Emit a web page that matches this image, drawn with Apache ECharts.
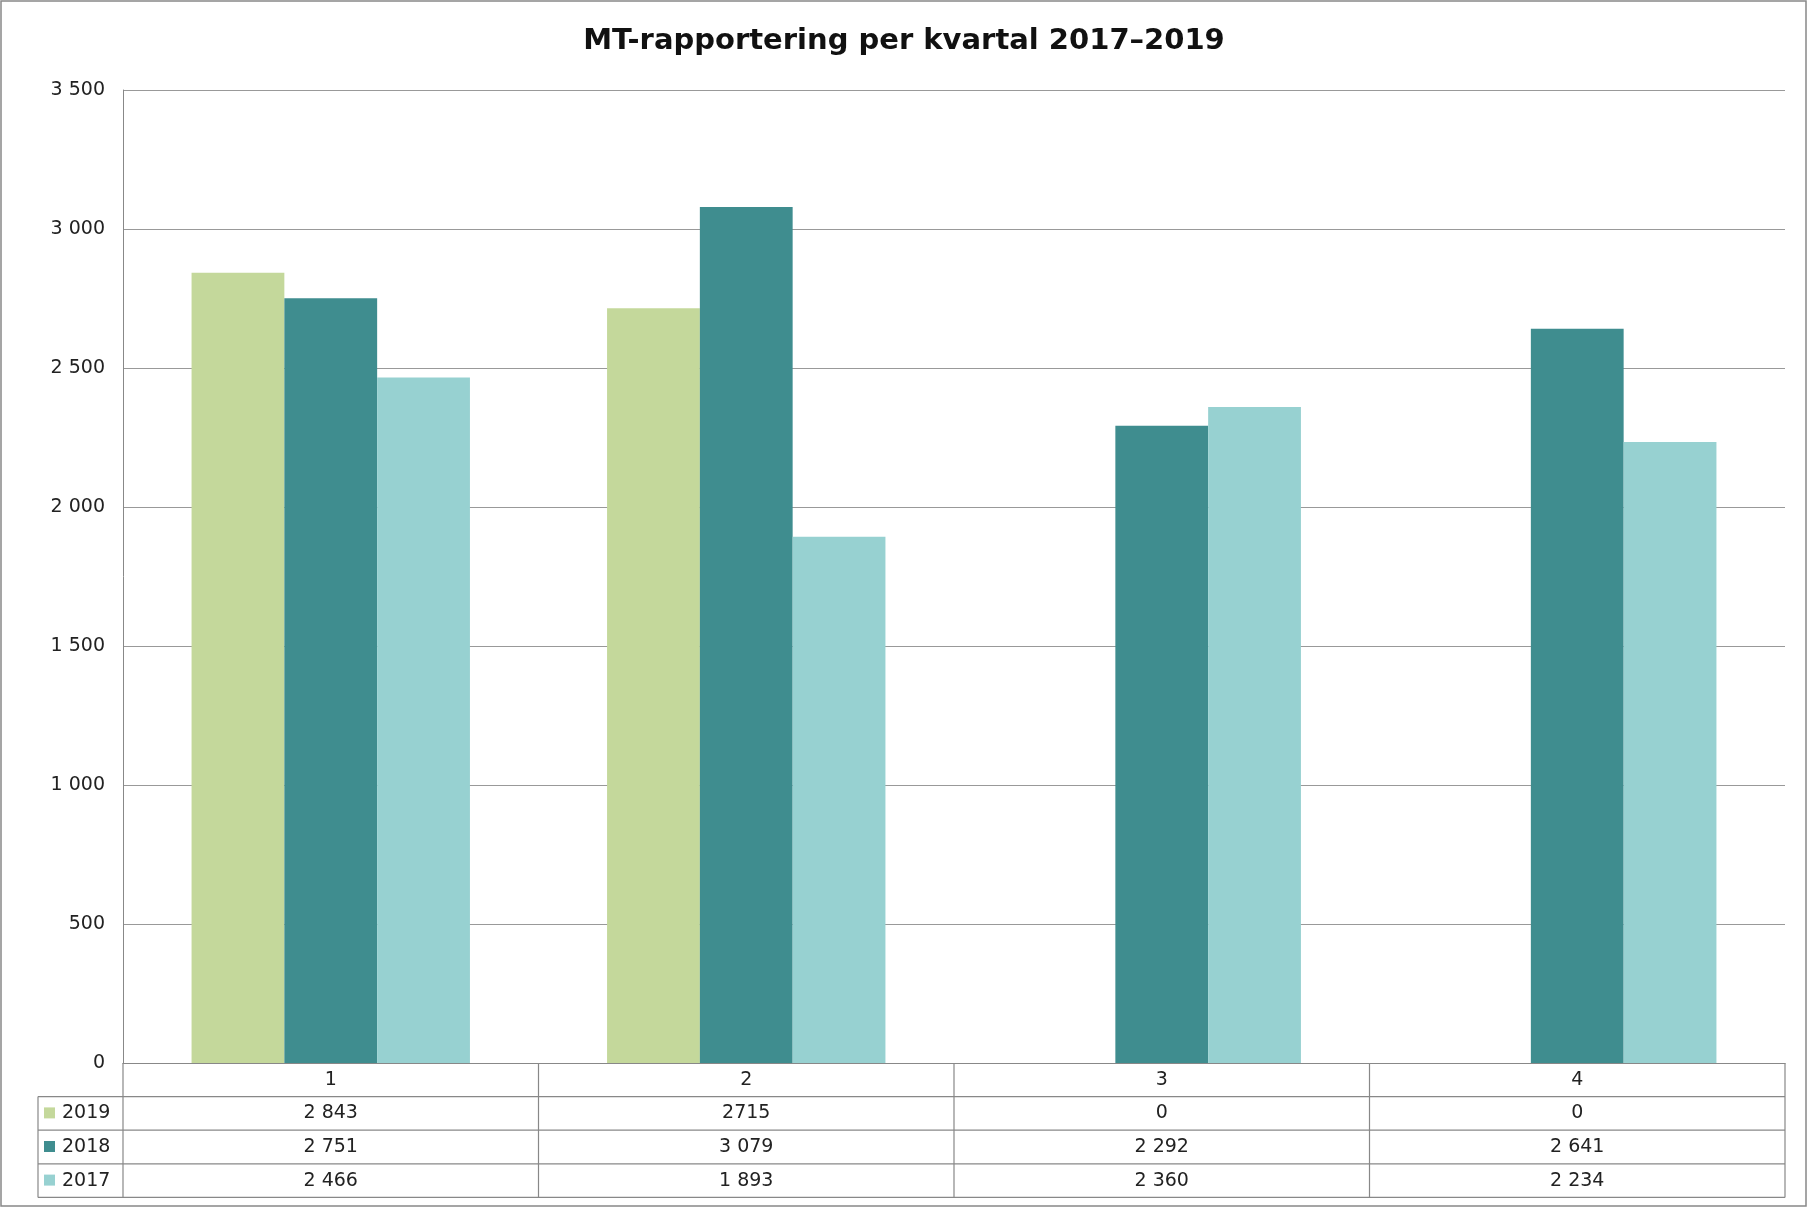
<!DOCTYPE html>
<html>
<head>
<meta charset="utf-8">
<script src="https://cdn.jsdelivr.net/npm/echarts@6/dist/echarts.min.js"></script>
<style>
  html, body { margin: 0; padding: 0; background: #fff; }
  #chart { width: 1808px; height: 1208px; }
</style>
</head>
<body>
<div id="chart"></div>
<script>
const categories = ['1', '2', '3', '4'];
const years = ['2019', '2018', '2017'];
const values2019 = [2843, 2715, 0, 0];
const values2018 = [2751, 3079, 2292, 2641];
const values2017 = [2466, 1893, 2360, 2234];
// table texts as printed in the reference
const tableText2019 = ['2 843', '2715', '0', '0'];
const tableText2018 = ['2 751', '3 079', '2 292', '2 641'];
const tableText2017 = ['2 466', '1 893', '2 360', '2 234'];
const colors = ['#c4d89b', '#3f8d8f', '#97d1d1'];

const W = 1808, H = 1208;
const gridLeft = 123, gridRight = 23, gridTop = 90, gridBottom = 1063;
const rowH = 33.6;
const legendLeft = 38;
const font = 'DejaVu Sans, Verdana, sans-serif';

const myChart = echarts.init(document.getElementById('chart'));

const graphic = [];
// outer border
graphic.push({ type: 'rect', shape: { x: 1, y: 1, width: W - 3, height: H - 3 }, style: { fill: 'none', stroke: '#888', lineWidth: 1.5 } });

const lineStyle = { stroke: '#888', lineWidth: 1.2 };
const right = W - gridRight;
const tableBottom = gridBottom + rowH * 4;
// horizontal table lines
for (let r = 1; r <= 4; r++) {
  const y = gridBottom + rowH * r;
  graphic.push({ type: 'line', shape: { x1: legendLeft, y1: y, x2: right, y2: y }, style: lineStyle });
}
graphic.push({ type: 'line', shape: { x1: legendLeft, y1: gridBottom + rowH, x2: legendLeft, y2: tableBottom }, style: lineStyle });
graphic.push({ type: 'line', shape: { x1: gridLeft, y1: gridBottom, x2: gridLeft, y2: tableBottom }, style: lineStyle });
const colW = (right - gridLeft) / categories.length;
for (let c = 1; c <= categories.length; c++) {
  const x = gridLeft + colW * c;
  graphic.push({ type: 'line', shape: { x1: x, y1: gridBottom, x2: x, y2: tableBottom }, style: lineStyle });
}
const rows = [tableText2019, tableText2018, tableText2017];
rows.forEach((row, r) => {
  const cy = gridBottom + rowH * (r + 1.5);
  graphic.push({ type: 'rect', shape: { x: legendLeft + 6, y: cy - 6, width: 11, height: 11 }, style: { fill: colors[r] } });
  graphic.push({ type: 'text', x: legendLeft + 24, y: cy, style: { text: years[r], font: '19px ' + font, fill: '#222', verticalAlign: 'middle' } });
  row.forEach((t, c) => {
    graphic.push({ type: 'text', x: gridLeft + colW * (c + 0.5), y: cy, style: { text: t, font: '19px ' + font, fill: '#222', align: 'center', verticalAlign: 'middle' } });
  });
});

const option = {
  animation: false,
  backgroundColor: '#fff',
  title: {
    text: 'MT-rapportering per kvartal 2017–2019',
    left: 'center', top: 22,
    textStyle: { fontFamily: font, fontSize: 29, fontWeight: 'bold', color: '#111' }
  },
  grid: { left: gridLeft, right: gridRight, top: gridTop, bottom: H - gridBottom },
  xAxis: {
    type: 'category', data: categories,
    axisLine: { lineStyle: { color: '#888' } },
    axisTick: { show: false },
    axisLabel: { fontFamily: font, fontSize: 19, color: '#222', margin: 8 }
  },
  yAxis: {
    type: 'value', min: 0, max: 3500, interval: 500,
    axisLine: { show: true, lineStyle: { color: '#888' } },
    splitLine: { lineStyle: { color: '#999', width: 1.2 } },
    axisLabel: {
      fontFamily: font, fontSize: 19, color: '#222', margin: 18,
      formatter: v => String(v).replace(/\B(?=(\d{3})+(?!\d))/g, ' ')
    }
  },
  series: [values2019, values2018, values2017].map((d, i) => ({
    name: years[i], type: 'bar', data: d,
    barGap: 0, barCategoryGap: '33%',
    itemStyle: { color: colors[i] }
  })),
  graphic: graphic
};
myChart.setOption(option);
</script>
</body>
</html>
